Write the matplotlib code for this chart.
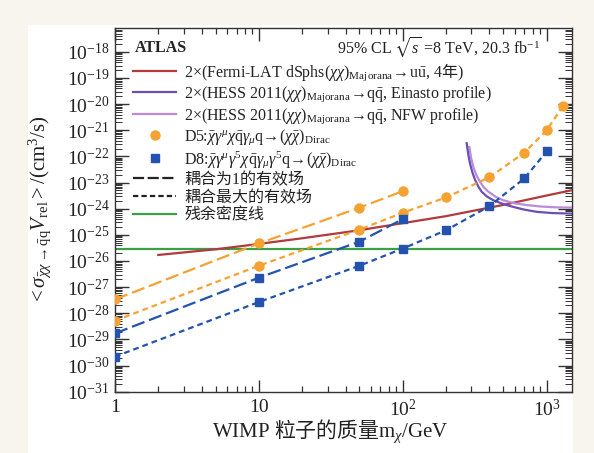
import numpy as np
import matplotlib
matplotlib.use("Agg")
import matplotlib.pyplot as plt
from matplotlib.lines import Line2D
from matplotlib.patches import Rectangle
from matplotlib.ticker import LogLocator, FixedLocator, FuncFormatter, NullFormatter

plt.rcParams['font.family'] = ['Liberation Serif', 'Noto Sans CJK SC', 'DejaVu Sans']
plt.rcParams['mathtext.fontset'] = 'custom'
plt.rcParams['mathtext.rm'] = 'Liberation Serif'
plt.rcParams['mathtext.it'] = 'Liberation Serif:italic'
plt.rcParams['mathtext.bf'] = 'Liberation Serif:bold'
plt.rcParams['mathtext.sf'] = 'Noto Sans CJK SC'
plt.rcParams['mathtext.fallback'] = 'stix'

# WIMP masses (GeV) and <sigma v> values
mass_c1 = [1, 10, 50, 100]
d5_c1 = [3.4e-28, 4.7e-26, 1.1e-24, 4.7e-24]
d8_c1 = [1.7e-29, 2.3e-27, 5.5e-26, 4.0e-25]

mass_d5_max = [1, 10, 50, 100, 200, 400, 700, 1000, 1300]
d5_max = [5.2e-29, 6.6e-27, 1.6e-25, 7.0e-25, 2.7e-24, 1.6e-23, 1.4e-22, 1.0e-21, 8.5e-21]
mass_d8_max = [1, 10, 50, 100, 200, 400, 700, 1000]
d8_max = [2.2e-30, 2.7e-28, 6.6e-27, 3.0e-26, 1.5e-25, 1.25e-24, 1.45e-23, 1.55e-22]

fermi_m = [2, 5, 10, 20, 50, 100, 200, 500, 1000, 1500]
fermi_sv = [1.7e-26, 2.8e-26, 4.5e-26, 7.4e-26, 1.5e-25, 2.8e-25, 5.2e-25, 1.4e-24, 3.2e-24, 5.1e-24]

einasto_m = [278, 285, 293, 305, 318, 335, 353, 385, 426, 500, 586, 700, 851, 1100, 1500]
einasto_sv = [3.2e-22, 1.2e-22, 5.4e-23, 2.4e-23, 1.26e-23, 7.0e-24, 4.5e-24, 2.9e-24, 2.1e-24,
              1.5e-24, 1.17e-24, 9.2e-25, 7.6e-25, 6.8e-25, 6.5e-25]
nfw_m = [290, 298, 309, 325, 344, 365, 393, 440, 500, 600, 726, 900, 1150, 1500]
nfw_sv = [2.3e-22, 9.0e-23, 4.0e-23, 1.9e-23, 1.07e-23, 6.6e-24, 4.5e-24, 2.9e-24, 2.1e-24,
          1.6e-24, 1.38e-24, 1.22e-24, 1.13e-24, 1.1e-24]

relic_sv = 3.0e-26

x_decades = [0, 1, 2, 3]
y_decades = list(range(-31, -17))

legend_labels = [
    r'2×(Fermi-LAT dSphs$(\chi\chi)_{\rm Majorana}\!\rightarrow\!\mathrm{u\bar{u}}$, 4$\mathsf{年}$)',
    r'2×(HESS 2011$(\chi\chi)_{\rm Majorana}\!\rightarrow\!\mathrm{q\bar{q}}$, Einasto profile)',
    r'2×(HESS 2011$(\chi\chi)_{\rm Majorana}\!\rightarrow\!\mathrm{q\bar{q}}$, NFW profile)',
    r'D5:$\bar{\chi}\gamma^{\mu}\chi\bar{\mathrm{q}}\gamma_{\mu}\mathrm{q}\!\rightarrow\!(\chi\bar{\chi})_{\rm Dirac}$',
    r'D8:$\bar{\chi}\gamma^{\mu}\gamma^{5}\chi\bar{\mathrm{q}}\gamma_{\mu}\gamma^{5}\mathrm{q}\!\rightarrow\!(\chi\bar{\chi})_{\rm Dirac}$',
    '耦合为1的有效场',
    '耦合最大的有效场',
    '残余密度线',
]

red = '#b23a3c'
einasto_col = '#6b4fb8'
nfw_col = '#bb8ad8'
orange = '#f6a232'
blue = '#2353ae'
green = '#3e9e45'

fig = plt.figure(figsize=(5.94, 4.53), dpi=100, facecolor='#f8f4ee')
panel = Rectangle((28 / 594, 0), 545 / 594, 428 / 453, transform=fig.transFigure,
                  facecolor='white', edgecolor='none', zorder=-10)
fig.add_artist(panel)
ax = fig.add_axes([0.1936, 0.1353, 0.7694, 0.8022])
ax.set_facecolor('white')

long_dash = (0, (6.0, 2.2))
short_dash = (0, (2.6, 1.8))
lw = 1.6

ax.axhline(relic_sv, color=green, lw=1.6, zorder=2)
ax.plot(fermi_m, fermi_sv, color=red, lw=1.6, zorder=3)
ax.plot(nfw_m, nfw_sv, color=nfw_col, lw=1.6, zorder=3)
ax.plot(einasto_m, einasto_sv, color=einasto_col, lw=1.6, zorder=3)

ax.plot(mass_c1, d5_c1, color=orange, lw=lw, linestyle=long_dash, marker='o', ms=6.5, zorder=4)
ax.plot(mass_d5_max, d5_max, color=orange, lw=lw, linestyle=short_dash, marker='o', ms=6.5, zorder=4)
ax.plot(mass_c1, d8_c1, color=blue, lw=lw, linestyle=long_dash, marker='s', ms=6, zorder=4)
ax.plot(mass_d8_max, d8_max, color=blue, lw=lw, linestyle=short_dash, marker='s', ms=6, zorder=4)

ax.set_xscale('log')
ax.set_yscale('log')
ax.set_xlim(1, 1500)
ax.set_ylim(1e-31, 10 ** -17.1)

ax.xaxis.set_major_locator(FixedLocator([10.0 ** e for e in x_decades]))
ax.xaxis.set_minor_locator(LogLocator(base=10, subs=np.arange(2, 10), numticks=100))
ax.yaxis.set_major_locator(FixedLocator([10.0 ** e for e in y_decades]))
ax.yaxis.set_minor_locator(LogLocator(base=10, subs=np.arange(2, 10), numticks=300))


def xfmt(v, pos):
    e = int(round(np.log10(v)))
    if e == 0:
        return '1'
    if e == 1:
        return '10'
    return r'$10^{%d}$' % e


def yfmt(v, pos):
    e = int(round(np.log10(v)))
    return r'$10^{%d}$' % e


ax.xaxis.set_major_formatter(FuncFormatter(xfmt))
ax.yaxis.set_major_formatter(FuncFormatter(yfmt))
ax.xaxis.set_minor_formatter(NullFormatter())
ax.yaxis.set_minor_formatter(NullFormatter())
ax.xaxis.offsetText.set_visible(False)
ax.yaxis.offsetText.set_visible(False)

ax.tick_params(which='both', direction='in', top=True, right=True, color='#333333', labelsize=14,
               labelcolor='#222222')
ax.tick_params(axis='x', which='major', length=9, width=1, pad=5)
ax.tick_params(axis='x', which='minor', length=4.5, width=0.9)
ax.tick_params(axis='y', which='major', length=10, width=1, pad=4)
ax.tick_params(axis='y', which='minor', length=5, width=0.7)
for s in ax.spines.values():
    s.set_color('#333333')
    s.set_linewidth(1.0)

ax.set_xlabel(r'WIMP $\mathsf{粒子的质量}$m$_{\chi}$/GeV', fontsize=15, color='#222222')
ax.xaxis.set_label_coords(0.47, -0.072)
ax.set_ylabel(r'$<\sigma_{\bar{\chi}\chi\rightarrow\bar{\mathrm{q}}\mathrm{q}}V_{\rm rel}>/(\mathrm{cm}^{3}/\mathrm{s})$',
              fontsize=15, color='#222222')
ax.yaxis.set_label_coords(-0.135, 0.5)

ax.text(0.044, 0.946, 'ATLAS', transform=ax.transAxes, fontsize=11.5, fontweight='bold',
        ha='left', va='center', color='#222222')
ax.text(0.93, 0.946, r'95% CL $\sqrt{s}$ =8 TeV, 20.3 fb$^{-1}$', transform=ax.transAxes,
        fontsize=11.5, ha='right', va='center', color='#222222')

handles = [
    Line2D([], [], color=red, lw=1.6),
    Line2D([], [], color=einasto_col, lw=1.6),
    Line2D([], [], color=nfw_col, lw=1.6),
    Line2D([], [], color=orange, lw=0, marker='o', ms=6.5),
    Line2D([], [], color=blue, lw=0, marker='s', ms=6),
    Line2D([], [], color='#222222', lw=1.6, linestyle=(0, (5.0, 1.6))),
    Line2D([], [], color='#222222', lw=1.6, linestyle=(0, (2.4, 1.4))),
    Line2D([], [], color=green, lw=1.6),
]
leg = ax.legend(handles, legend_labels, loc='upper left', bbox_to_anchor=(0.04, 0.91),
                frameon=False, fontsize=11.5, handlelength=2.7, handletextpad=0.5,
                labelspacing=0.12, borderpad=0, borderaxespad=0)
for t in leg.get_texts():
    t.set_color('#222222')

fig.savefig('out.png', dpi=100, facecolor=fig.get_facecolor())
